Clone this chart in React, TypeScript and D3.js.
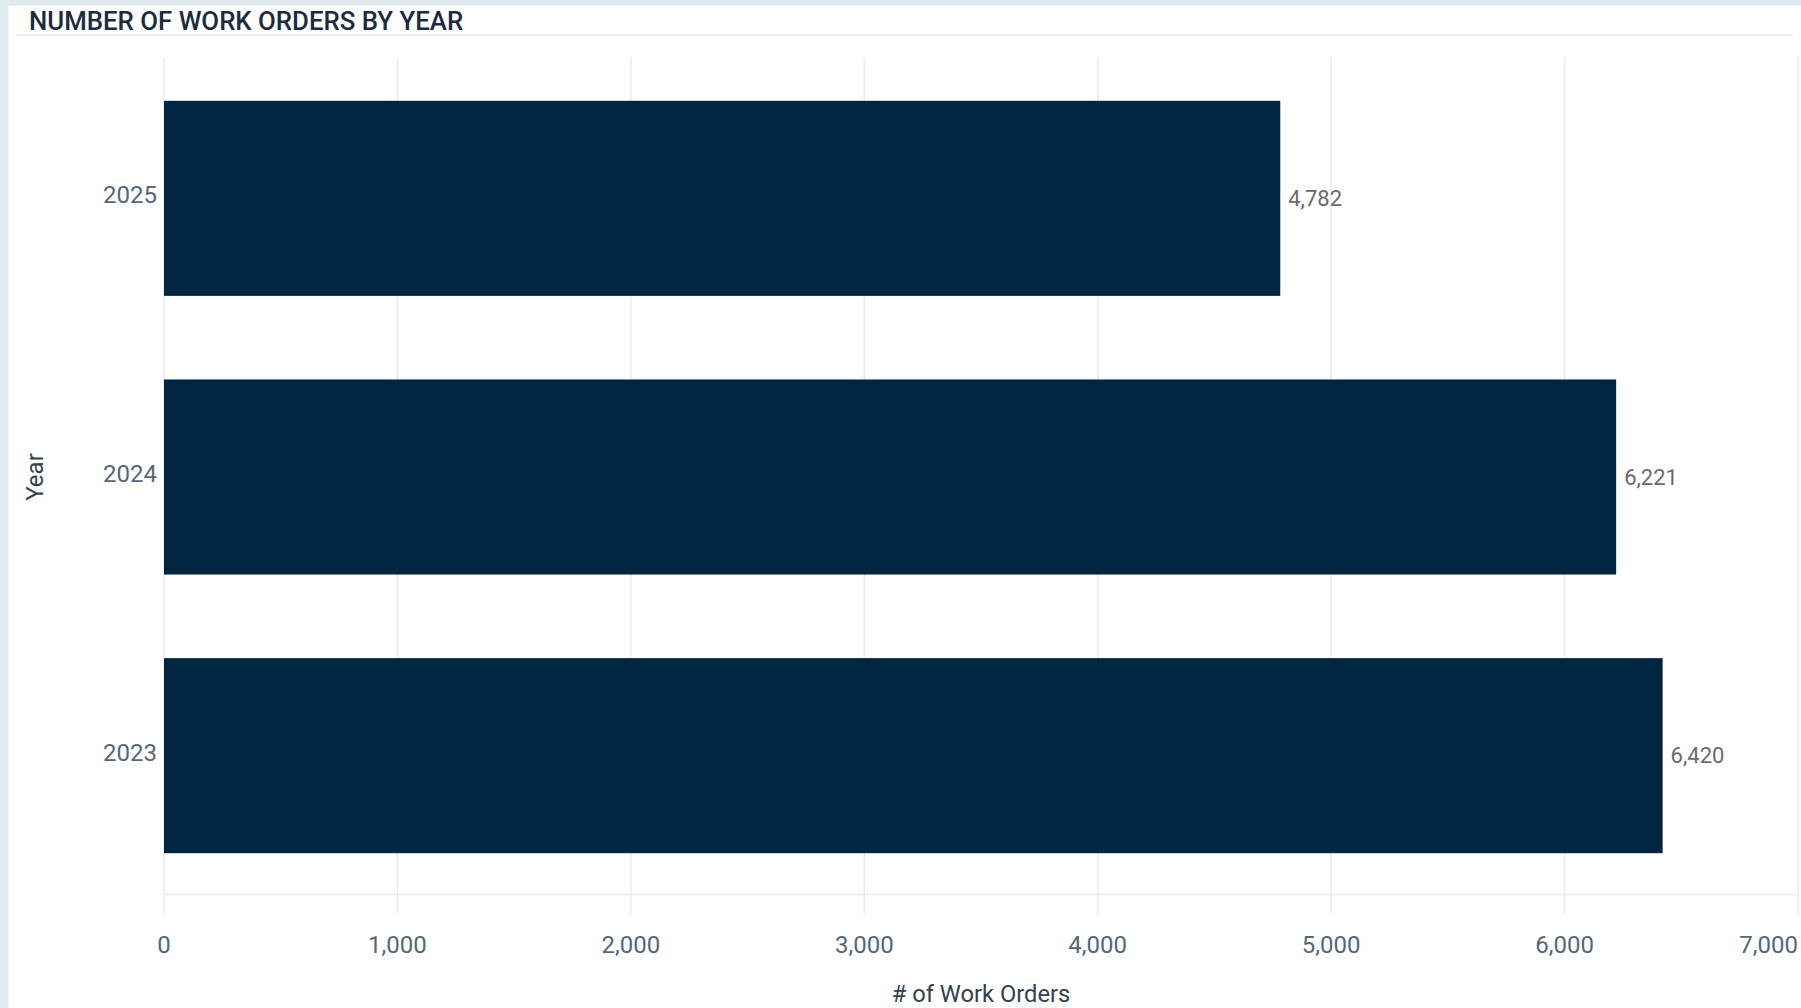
import React from "react";
import * as d3 from "d3";

const years = ["2025", "2024", "2023"];
const workOrders = [4782, 6221, 6420];
const xTicks = [0, 1000, 2000, 3000, 4000, 5000, 6000, 7000];
const chartTitle = "NUMBER OF WORK ORDERS BY YEAR";
const xTitle = "# of Work Orders";
const yTitle = "Year";

const W = 1801;
const H = 1008;
const FONT = "Roboto, 'Noto Sans', sans-serif";

export default function App() {
  const x = d3.scaleLinear().domain([0, 7000]).range([164, 1798]);
  const y = d3.scaleBand<string>().domain(years).range([59, 895]).paddingInner(0.3).paddingOuter(0.15);
  const fmt = d3.format(",");
  const axisY = 894.5;

  return (
    <div style={{ position: "absolute", left: 0, top: 0, width: W, height: H }}>
      <svg width={W} height={H} style={{ display: "block" }}>
        <rect x={0} y={0} width={W} height={H} fill="#dfe9f0" />
        <rect x={8.5} y={5.5} width={W - 8.5} height={H - 5.5} fill="#ffffff" />
        <text x={29} y={29.5} fontFamily={FONT} fontSize={25.8} fontWeight={500} fill="#1b2b40">
          {chartTitle}
        </text>
        <line x1={16} x2={1793} y1={35} y2={35} stroke="#eef1f4" strokeWidth={2} />

        {xTicks.map((t) => (
          <line key={"g" + t} x1={x(t)} x2={x(t)} y1={57} y2={913} stroke="#e7eaef" strokeWidth={1.5} />
        ))}
        <line x1={x(0)} x2={x(7000)} y1={axisY} y2={axisY} stroke="#e7eaef" strokeWidth={1.5} />

        {years.map((yr, i) => (
          <rect
            key={yr}
            x={x(0)}
            y={y(yr)}
            width={x(workOrders[i]) - x(0)}
            height={y.bandwidth()}
            fill="#012641"
          />
        ))}

        {years.map((yr, i) => (
          <text
            key={"v" + yr}
            x={x(workOrders[i]) + 8}
            y={(y(yr) as number) + y.bandwidth() / 2}
            dominantBaseline="central"
            fontFamily={FONT}
            fontSize={22}
            fill="#6b6b6b"
          >
            {fmt(workOrders[i])}
          </text>
        ))}

        {years.map((yr) => (
          <text
            key={"t" + yr}
            x={157}
            y={(y(yr) as number) + y.bandwidth() / 2 - 3}
            dominantBaseline="central"
            textAnchor="end"
            fontFamily={FONT}
            fontSize={24}
            fill="#54677a"
          >
            {yr}
          </text>
        ))}

        {xTicks.map((t) => (
          <text
            key={"l" + t}
            x={x(t)}
            y={945}
            dominantBaseline="central"
            textAnchor={t === 7000 ? "end" : "middle"}
            fontFamily={FONT}
            fontSize={24}
            fill="#54677a"
          >
            {fmt(t)}
          </text>
        ))}

        <text
          x={(x(0) + x(7000)) / 2}
          y={1001.5}
          textAnchor="middle"
          fontFamily={FONT}
          fontSize={23.7}
          fill="#34414f"
        >
          {xTitle}
        </text>
        <text
          transform={`translate(43, 477) rotate(-90)`}
          textAnchor="middle"
          fontFamily={FONT}
          fontSize={24}
          fill="#34414f"
        >
          {yTitle}
        </text>
      </svg>
    </div>
  );
}
